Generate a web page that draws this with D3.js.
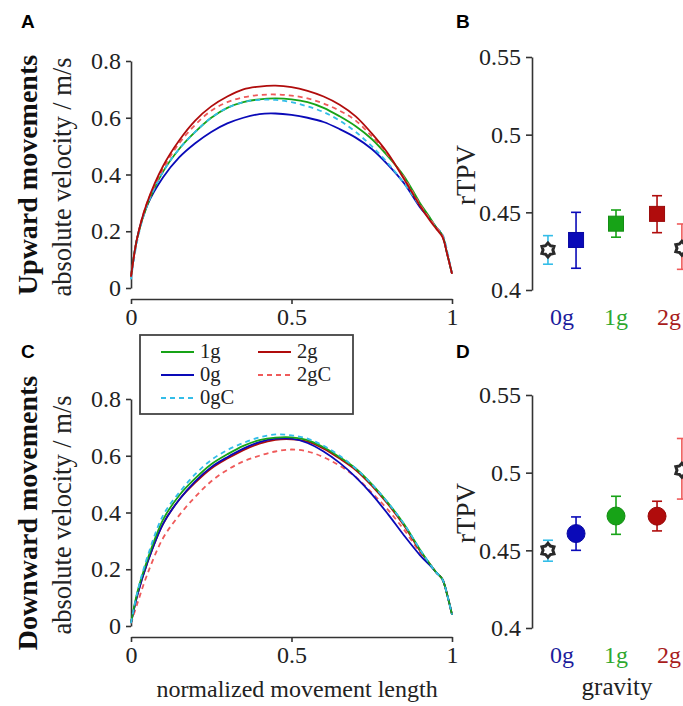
<!DOCTYPE html>
<html>
<head>
<meta charset="utf-8">
<script src="https://cdnjs.cloudflare.com/ajax/libs/d3/7.8.5/d3.min.js"></script>
<style>
body { margin: 0; background: #fff; }
svg { display: block; }
</style>
</head>
<body>
<div id="chart"></div>
<script>
// normalized movement length samples
var xs = [0, .02, .05, .1, .15, .2, .25, .3, .35, .4, .45, .5, .55, .6, .65, .7, .75, .8, .85, .9, .93, .95, .97, .985, 1];

// upward velocity profiles (m/s)
var up_1g  = [.04, .18, .29, .41, .49, .55, .60, .635, .655, .665, .668, .665, .655, .635, .605, .57, .525, .465, .395, .30, .25, .215, .185, .12, .05];
var up_0g  = [.04, .18, .29, .39, .46, .51, .55, .58, .60, .613, .615, .61, .60, .585, .56, .53, .49, .435, .37, .285, .245, .215, .185, .12, .05];
var up_0gC = [.03, .17, .29, .41, .49, .55, .60, .635, .655, .663, .663, .655, .64, .62, .59, .55, .50, .44, .37, .29, .245, .215, .19, .13, .05];
var up_2g  = [.04, .18, .30, .43, .52, .59, .64, .675, .70, .71, .713, .708, .695, .675, .646, .605, .545, .475, .385, .29, .24, .21, .18, .12, .05];
var up_2gC = [.04, .18, .30, .42, .51, .575, .625, .655, .672, .68, .682, .678, .668, .65, .625, .59, .535, .47, .39, .295, .245, .215, .185, .12, .05];

// downward velocity profiles (m/s)
var down_1g  = [.01, .12, .23, .375, .46, .52, .57, .605, .635, .655, .664, .665, .655, .63, .595, .555, .5, .435, .36, .27, .22, .19, .165, .11, .04];
var down_0g  = [.01, .11, .22, .36, .445, .51, .56, .595, .625, .648, .66, .66, .645, .615, .575, .525, .465, .395, .32, .25, .215, .19, .165, .11, .04];
var down_0gC = [.01, .12, .24, .39, .47, .535, .585, .62, .645, .665, .675, .672, .66, .635, .6, .555, .5, .435, .36, .27, .22, .19, .165, .11, .04];
var down_2g  = [.01, .11, .22, .36, .445, .505, .555, .59, .62, .643, .656, .658, .65, .625, .59, .55, .495, .43, .355, .265, .22, .19, .165, .11, .04];
var down_2gC = [.01, .08, .18, .31, .39, .455, .51, .55, .58, .60, .615, .622, .615, .595, .565, .525, .47, .41, .34, .26, .22, .19, .165, .11, .04];

// rTPV: order 0gC, 0g, 1g, 2g, 2gC
var conds    = ["0gC", "0g", "1g", "2g", "2gC"];
var up_rtpv  = [0.4258, 0.4322, 0.4427, 0.449, 0.4269];
var up_lo    = [0.4166, 0.414, 0.434, 0.4369, 0.4133];
var up_hi    = [0.435, 0.45, 0.4515, 0.4607, 0.4425];
var down_rtpv = [0.45, 0.4608, 0.4721, 0.472, 0.5016];
var down_lo   = [0.443, 0.45, 0.4603, 0.4625, 0.483];
var down_hi   = [0.4565, 0.4715, 0.4848, 0.4816, 0.522];

var gravity = ["0g", "1g", "2g"];
var yTicksV = [0, 0.2, 0.4, 0.6, 0.8];
var xTicksV = [0, 0.5, 1];
var yTicksR = [0.4, 0.45, 0.5, 0.55];

var colors = {"1g": "#17a317", "0g": "#0a0ab8", "0gC": "#33bde8", "2g": "#b00c0c", "2gC": "#ef5a5a"};
var labelColors = {"0g": "#1c1c9c", "1g": "#2ea82e", "2g": "#a81c1c"};
var serif = "'Liberation Serif', 'Times New Roman', serif";

var width = 683, height = 706;
var svg = d3.select("#chart").append("svg")
    .attr("width", width)
    .attr("height", height);

// panel letters
var letters = [["A", 21, 28], ["B", 456, 28], ["C", 21, 358], ["D", 456, 358]];
svg.selectAll(".letter").data(letters).enter().append("text")
    .attr("class", "letter")
    .attr("x", function(d) { return d[1]; })
    .attr("y", function(d) { return d[2]; })
    .style("font-family", "'Liberation Sans', Arial, sans-serif")
    .style("font-weight", "bold")
    .style("font-size", "19px")
    .text(function(d) { return d[0]; });

function styleAxis(g) {
    g.select(".domain").attr("stroke", "#333").attr("stroke-width", 1.6);
    g.selectAll(".tick line").attr("stroke", "#333").attr("stroke-width", 1.6);
    g.selectAll(".tick text").attr("fill", "#222")
        .style("font-family", serif).style("font-size", "24px");
}

// velocity profile panel
function velocityPanel(top, series, bigLabel) {
    var x = d3.scaleLinear().domain([0, 1]).range([131, 452]);
    var y = d3.scaleLinear().domain([0, 0.8]).range([top + 227, top]);

    var ax = svg.append("g")
        .attr("transform", "translate(0," + (top + 238) + ")")
        .call(d3.axisBottom(x).tickValues(xTicksV).tickSize(5).tickPadding(4).tickSizeOuter(0)
            .tickFormat(function(d) { return d === 0 || d === 1 ? d : d3.format(".1f")(d); }));
    styleAxis(ax);

    var ay = svg.append("g")
        .attr("transform", "translate(131,0)")
        .call(d3.axisLeft(y).tickValues(yTicksV).tickSize(5).tickPadding(5).tickSizeOuter(0)
            .tickFormat(function(d) { return d === 0 ? "0" : d3.format(".1f")(d); }));
    styleAxis(ay);

    var line = d3.line()
        .x(function(d, i) { return x(xs[i]); })
        .y(function(d) { return y(d); })
        .curve(d3.curveCatmullRom.alpha(0.5));

    series.forEach(function(s) {
        svg.append("path")
            .attr("d", line(s.values))
            .attr("fill", "none")
            .attr("stroke", colors[s.name])
            .attr("stroke-width", 1.8)
            .attr("stroke-dasharray", s.name.indexOf("C") > 0 ? "5,4" : null);
    });

    var cy = top + 114;
    svg.append("text")
        .attr("transform", "translate(37," + cy + ") rotate(-90)")
        .attr("text-anchor", "middle")
        .style("font-family", serif)
        .style("font-weight", "bold")
        .style("font-size", "28px")
        .attr("fill", "#111")
        .text(bigLabel);
    svg.append("text")
        .attr("transform", "translate(71," + (cy + 2) + ") rotate(-90)")
        .attr("text-anchor", "middle")
        .style("font-family", serif)
        .style("font-size", "26.5px")
        .attr("fill", "#222")
        .text("absolute velocity / m/s");
}

velocityPanel(61, [
    {name: "0g", values: up_0g},
    {name: "1g", values: up_1g},
    {name: "0gC", values: up_0gC},
    {name: "2gC", values: up_2gC},
    {name: "2g", values: up_2g}
], "Upward movements");

velocityPanel(399, [
    {name: "2gC", values: down_2gC},
    {name: "2g", values: down_2g},
    {name: "0g", values: down_0g},
    {name: "1g", values: down_1g},
    {name: "0gC", values: down_0gC}
], "Downward movements");

svg.append("text")
    .attr("x", 297)
    .attr("y", 697)
    .attr("text-anchor", "middle")
    .style("font-family", serif)
    .style("font-size", "24px")
    .attr("fill", "#222")
    .text("normalized movement length");

// legend
var legend = svg.append("g");
legend.append("rect")
    .attr("x", 140).attr("y", 335)
    .attr("width", 213).attr("height", 79)
    .attr("fill", "#fff")
    .attr("stroke", "#444")
    .attr("stroke-width", 1.8);
var legendItems = [
    {name: "1g", x: 161, y: 352},
    {name: "0g", x: 161, y: 375},
    {name: "0gC", x: 161, y: 398},
    {name: "2g", x: 258, y: 352},
    {name: "2gC", x: 258, y: 375}
];
legendItems.forEach(function(d) {
    legend.append("line")
        .attr("x1", d.x).attr("x2", d.x + 33)
        .attr("y1", d.y).attr("y2", d.y)
        .attr("stroke", colors[d.name])
        .attr("stroke-width", 1.8)
        .attr("stroke-dasharray", d.name.indexOf("C") > 0 ? "5,4" : null);
    legend.append("text")
        .attr("x", d.x + 39)
        .attr("y", d.y + 6)
        .style("font-family", serif)
        .style("font-size", "20.5px")
        .attr("fill", "#222")
        .text(d.name);
});

// gear-like hexagram marker for control groups
function hexagram(r1, r2) {
    var pts = [];
    for (var i = 0; i < 12; i++) {
        var a = Math.PI / 6 * i - Math.PI / 2;
        var r = i % 2 === 0 ? r1 : r2;
        pts.push([r * Math.cos(a), r * Math.sin(a)]);
    }
    return "M" + pts.join("L") + "Z";
}

// rTPV panel
function rtpvPanel(top, vals, lo, hi, shape, showLabel) {
    var x = d3.scaleLinear().domain([1, 3]).range([562, 670]);
    var y = d3.scaleLinear().domain([0.4, 0.55]).range([top + 233, top]);
    var pos = [1 - 0.26, 1 + 0.26, 2, 3 - 0.24, 3 + 0.22];

    var ay = svg.append("g")
        .attr("transform", "translate(532,0)")
        .call(d3.axisLeft(y).tickValues(yTicksR).tickSize(6).tickPadding(5).tickSizeOuter(0)
            .tickFormat(function(d) { return d === 0.4 ? "0.4" : d === 0.5 ? "0.5" : d3.format(".2f")(d); }));
    styleAxis(ay);

    svg.append("text")
        .attr("transform", "translate(475," + (top + 118) + ") rotate(-90)")
        .attr("text-anchor", "middle")
        .style("font-family", serif)
        .style("font-size", "27px")
        .attr("fill", "#222")
        .text("rTPV");

    svg.selectAll(null).data(gravity).enter().append("text")
        .attr("x", function(d, i) { return x(i + 1) - (i === 2 ? 1 : 0); })
        .attr("y", top + 268)
        .attr("text-anchor", "middle")
        .style("font-family", serif)
        .style("font-size", "24px")
        .attr("fill", function(d) { return labelColors[d]; })
        .text(function(d) { return d; });

    conds.forEach(function(c, i) {
        var cx = x(pos[i]);
        var g = svg.append("g");
        g.append("line")
            .attr("x1", cx).attr("x2", cx)
            .attr("y1", y(lo[i])).attr("y2", y(hi[i]));
        [lo[i], hi[i]].forEach(function(v) {
            g.append("line")
                .attr("x1", cx - 5).attr("x2", cx + 5)
                .attr("y1", y(v)).attr("y2", y(v));
        });
        g.selectAll("line")
            .attr("stroke", colors[c])
            .attr("stroke-width", 1.6);

        if (c.indexOf("C") > 0) {
            g.append("path")
                .attr("d", hexagram(7, 4.9))
                .attr("transform", "translate(" + cx + "," + y(vals[i]) + ")")
                .attr("fill", "#fff")
                .attr("stroke", "#2a2a2a")
                .attr("stroke-width", 3)
                .attr("stroke-linejoin", "miter");
        } else if (shape === "square") {
            g.append("rect")
                .attr("x", cx - 7.5).attr("y", y(vals[i]) - 7.5)
                .attr("width", 15).attr("height", 15)
                .attr("fill", colors[c])
                .attr("stroke", d3.color(colors[c]).darker(0.4))
                .attr("stroke-width", 1);
        } else {
            g.append("circle")
                .attr("cx", cx).attr("cy", y(vals[i]))
                .attr("r", 9)
                .attr("fill", colors[c])
                .attr("stroke", d3.color(colors[c]).darker(0.4))
                .attr("stroke-width", 1);
        }
    });

    if (showLabel) {
        svg.append("text")
            .attr("x", 617)
            .attr("y", 695)
            .attr("text-anchor", "middle")
            .style("font-family", serif)
            .style("font-size", "25px")
            .attr("fill", "#222")
            .text("gravity");
    }
}

rtpvPanel(57, up_rtpv, up_lo, up_hi, "square", false);
rtpvPanel(395, down_rtpv, down_lo, down_hi, "circle", true);
</script>
</body>
</html>
